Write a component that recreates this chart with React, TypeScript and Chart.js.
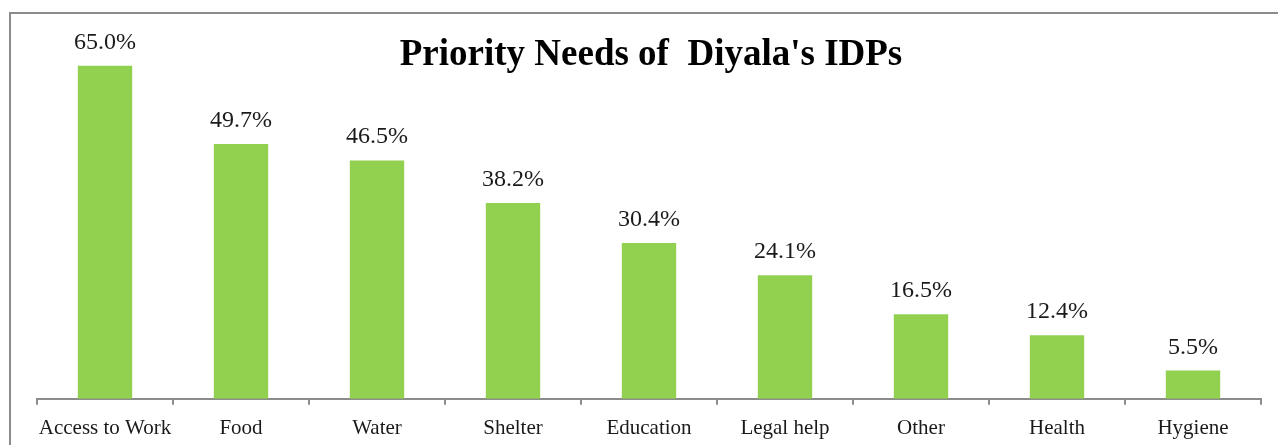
import React, { useEffect, useRef } from "react";
import { Chart, registerables } from "chart.js";

Chart.register(...registerables);

const categories = ["Access to Work", "Food", "Water", "Shelter", "Education", "Legal help", "Other", "Health", "Hygiene"];
const values = [65.0, 49.7, 46.5, 38.2, 30.4, 24.1, 16.5, 12.4, 5.5];
const chartTitle = "Priority Needs of  Diyala's IDPs";

const SERIF = "'Liberation Serif', 'Times New Roman', serif";

const decorPlugin = {
  id: "decor",
  beforeDraw(chart: any) {
    const ctx = chart.ctx;
    ctx.save();
    ctx.strokeStyle = "#8c8c8c";
    ctx.lineWidth = 2;
    ctx.strokeRect(10, 13, chart.width + 20, chart.height + 20);
    ctx.restore();
  },
  afterDatasetsDraw(chart: any) {
    const ctx = chart.ctx;
    ctx.save();
    const meta = chart.getDatasetMeta(0);
    ctx.fillStyle = "#1a1a1a";
    ctx.font = `24px ${SERIF}`;
    ctx.textAlign = "center";
    ctx.textBaseline = "alphabetic";
    meta.data.forEach((bar: any, i: number) => {
      ctx.fillText(values[i].toFixed(1) + "%", bar.x, bar.y - 17);
    });
    ctx.font = `bold 37px ${SERIF}`;
    ctx.fillStyle = "#000";
    const ca = chart.chartArea;
    ctx.fillText(chartTitle, (ca.left + ca.right) / 2 + 2, 65);
    ctx.restore();
  },
};

export default function App() {
  const ref = useRef<HTMLCanvasElement>(null);
  useEffect(() => {
    const chart = new Chart(ref.current!, {
      type: "bar",
      data: {
        labels: categories,
        datasets: [
          {
            data: values,
            backgroundColor: "#92D050",
            barPercentage: 0.4,
            categoryPercentage: 1,
          },
        ],
      },
      options: {
        animation: false,
        responsive: false,
        maintainAspectRatio: false,
        layout: { padding: { left: 37, right: 17, top: 40, bottom: -7 } },
        plugins: { legend: { display: false }, tooltip: { enabled: false }, title: { display: false } },
        scales: {
          y: { display: false, min: 0, max: 70 },
          x: {
            offset: true,
            grid: { offset: true, drawOnChartArea: false, tickLength: 6, color: "#8c8c8c", lineWidth: 2 },
            border: { color: "#8c8c8c", width: 2 },
            ticks: { color: "#1a1a1a", font: { family: SERIF, size: 21 }, padding: 11, maxRotation: 0, autoSkip: false },
          },
        },
      },
      plugins: [decorPlugin],
    });
    return () => chart.destroy();
  }, []);
  return (
    <div style={{ position: "fixed", left: 0, top: 0, width: 1278, height: 445, background: "#fff" }}>
      <canvas ref={ref} width={1278} height={445} style={{ display: "block" }} />
    </div>
  );
}
